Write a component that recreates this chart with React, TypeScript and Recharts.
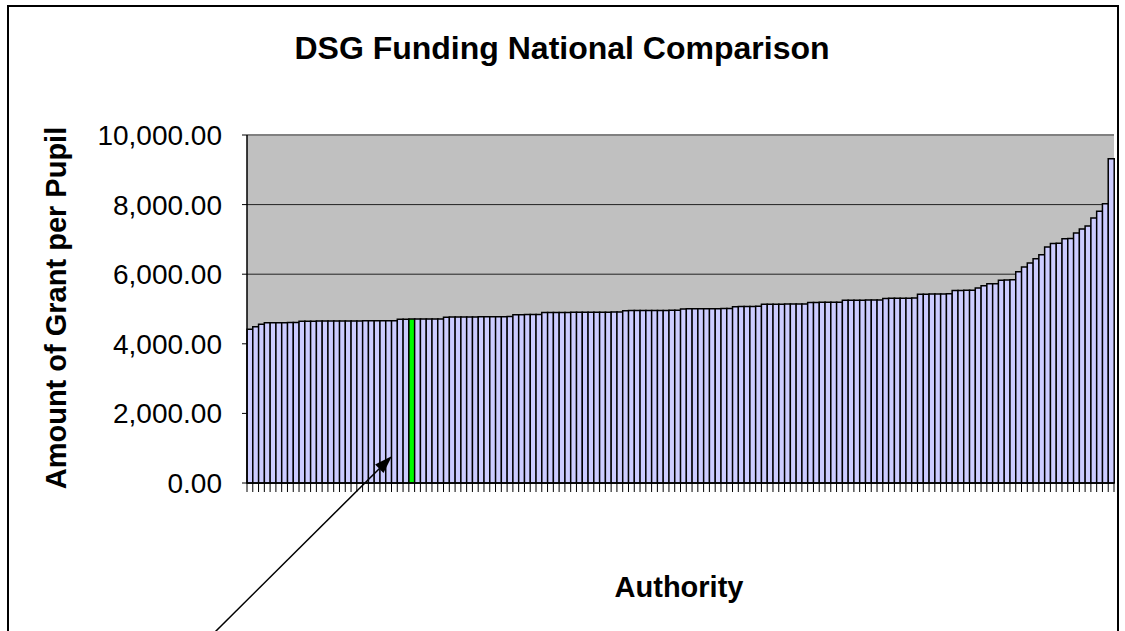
import React from "react";
import {
  BarChart,
  Bar,
  Cell,
  XAxis,
  YAxis,
  CartesianGrid,
  ReferenceLine,
} from "recharts";

const chartTitle = "DSG Funding National Comparison";
const yAxisTitle = "Amount of Grant per Pupil";
const xAxisTitle = "Authority";

const yTicks = [0, 2000, 4000, 6000, 8000, 10000];

// DSG per pupil for each authority, sorted low to high
const grantPerPupil = [
  4417, 4492, 4560,
  4603, 4605, 4606, 4607, 4609, 4611,
  4648, 4650, 4651, 4652, 4653, 4654, 4655, 4655, 4656, 4657, 4658, 4659, 4660, 4661, 4662, 4663, 4664,
  4706, 4708, 4710, 4711, 4712, 4713, 4715, 4716,
  4766, 4768, 4770, 4771, 4772, 4773, 4775, 4776, 4777, 4779, 4780, 4782,
  4836, 4838, 4840, 4841, 4843,
  4899, 4900, 4901, 4902, 4903, 4904, 4905, 4906, 4907, 4908, 4909, 4910, 4911, 4912,
  4952, 4954, 4955, 4956, 4957, 4958, 4959, 4960, 4961, 4963,
  5003, 5004, 5006, 5007, 5008, 5009, 5010, 5011, 5013,
  5068, 5070, 5072, 5074, 5076,
  5135, 5137, 5138, 5140, 5141, 5142, 5144, 5145,
  5188, 5190, 5191, 5193, 5194, 5196,
  5250, 5252, 5253, 5255, 5256, 5258, 5259,
  5305, 5307, 5309, 5310, 5312, 5314,
  5425, 5427, 5429, 5431, 5433, 5435,
  5532, 5535, 5538, 5540,
  5603, 5670, 5722, 5728, 5828, 5833, 5838,
  6072, 6207, 6322, 6446, 6561, 6782, 6885, 6891, 7016, 7024,
  7184, 7299, 7385, 7615, 7807, 8026, 9319,
];

// the authority the arrow points at
const highlightIndex = 28;

const data = grantPerPupil.map((v, i) => ({ authority: i + 1, grant: v }));

const FONT = "'Liberation Sans', Arial, sans-serif";

// excel style ticks: on the boundaries between categories
function BoundaryTick(props: any) {
  const { x, y, payload, index, visibleTicksCount } = props;
  const half = payload && payload.offset ? payload.offset : 0;
  const last = index === visibleTicksCount - 1;
  return (
    <g>
      <line x1={x - half} x2={x - half} y1={y} y2={y + 9} stroke="#000" />
      {last && <line x1={x + half} x2={x + half} y1={y} y2={y + 9} stroke="#000" />}
    </g>
  );
}

export default function App() {
  return (
    <div
      style={{
        position: "absolute",
        left: 0,
        top: 0,
        width: 1125,
        height: 631,
        background: "#fff",
        overflow: "hidden",
        fontFamily: FONT,
      }}
    >
      <div
        style={{
          position: "absolute",
          left: 7,
          top: 5,
          width: 1108,
          height: 700,
          border: "2px solid #000",
        }}
      />
      <div style={{ position: "absolute", left: 0, top: 0 }}>
        <BarChart
          width={1125}
          height={631}
          data={data}
          margin={{ top: 135, right: 11, bottom: 108, left: 0 }}
          barCategoryGap={0}
          barGap={0}
        >
          <CartesianGrid
            vertical={false}
            stroke="#222"
            fill="#C0C0C0"
            fillOpacity={1}
          />
          <XAxis
            dataKey="authority"
            height={40}
            interval={0}
            tickSize={0}
            tickMargin={0}
            tickLine={false}
            axisLine={{ stroke: "#000", strokeWidth: 1.5 }}
            tick={<BoundaryTick />}
          />
          <YAxis
            width={247}
            domain={[0, 10000]}
            ticks={yTicks}
            interval={0}
            tickSize={5}
            tickMargin={20}
            axisLine={{ stroke: "#000", strokeWidth: 1.5 }}
            tickLine={{ stroke: "#000" }}
            tick={{ fill: "#000", fontSize: 28, fontFamily: FONT }}
            tickFormatter={(v: number) =>
              v.toLocaleString("en-US", { minimumFractionDigits: 2, maximumFractionDigits: 2 })
            }
          />
          <YAxis
            yAxisId="frame"
            orientation="right"
            width={0}
            domain={[0, 10000]}
            tick={false}
            tickLine={false}
            axisLine={{ stroke: "#808080", strokeWidth: 2 }}
          />
          <ReferenceLine y={10000} stroke="#808080" strokeWidth={2} />
          <Bar
            dataKey="grant"
            fill="#CCCCFF"
            stroke="#000"
            strokeWidth={1.5}
            isAnimationActive={false}
          >
            {data.map((d, i) => (
              <Cell key={d.authority} fill={i === highlightIndex ? "#00FF00" : "#CCCCFF"} />
            ))}
          </Bar>
        </BarChart>
      </div>
      <svg
        width={1125}
        height={631}
        style={{ position: "absolute", left: 0, top: 0, pointerEvents: "none" }}
      >
        <text
          x={562}
          y={59}
          textAnchor="middle"
          fontSize={32}
          fontWeight="bold"
          fontFamily={FONT}
          fill="#000"
        >
          {chartTitle}
        </text>
        <text
          transform="translate(66,308) rotate(-90)"
          textAnchor="middle"
          fontSize={29}
          fontWeight="bold"
          fontFamily={FONT}
          fill="#000"
        >
          {yAxisTitle}
        </text>
        <text
          x={679}
          y={597}
          textAnchor="middle"
          fontSize={29}
          fontWeight="bold"
          fontFamily={FONT}
          fill="#000"
        >
          {xAxisTitle}
        </text>
        <line x1={215} y1={632} x2={383} y2={465} stroke="#000" strokeWidth={1.5} />
        <polygon points="392,456 383.5,472.9 375.1,464.5" fill="#000" />
      </svg>
    </div>
  );
}
